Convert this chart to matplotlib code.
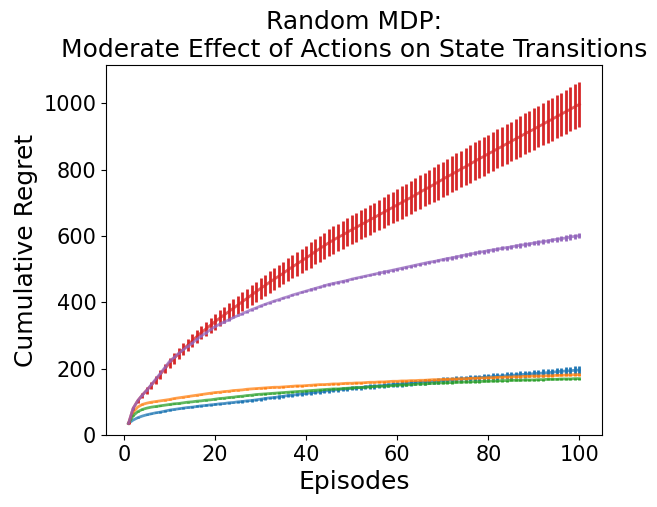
import numpy as np
import matplotlib
matplotlib.use("Agg")
import matplotlib.pyplot as plt

episodes = np.arange(1, 101)

# mean cumulative regret per episode
blue = [35, 45, 52, 57, 61, 64, 67, 69, 72, 75, 77, 79, 81, 83, 84, 86, 88, 89, 91, 92,
        94, 95, 97, 98, 100, 101, 103, 104, 106, 108, 110, 112, 113, 115, 117, 119, 120, 122, 124, 125,
        127, 129, 130, 132, 134, 135, 137, 138, 139, 141, 142, 143, 145, 146, 147, 148, 149, 151, 152, 153,
        154, 155, 157, 158, 159, 160, 161, 162, 163, 165, 166, 167, 168, 169, 170, 171, 172, 173, 174, 175,
        176, 177, 178, 179, 180, 181, 182, 183, 184, 185, 186, 187, 188, 189, 191, 192, 193, 194, 195, 196]
orange = [35, 68, 84, 92, 96, 99, 101, 103, 105, 107, 110, 112, 114, 116, 118, 120, 122, 124, 126, 128,
          129, 131, 132, 134, 135, 136, 138, 139, 140, 141, 142, 143, 144, 144, 145, 146, 147, 148, 148, 149,
          150, 151, 152, 152, 153, 154, 154, 155, 156, 156, 157, 157, 158, 159, 159, 160, 160, 161, 162, 162,
          163, 163, 164, 164, 165, 165, 166, 167, 167, 168, 168, 169, 169, 170, 170, 171, 171, 172, 172, 173,
          173, 174, 174, 175, 175, 176, 176, 177, 177, 178, 178, 178, 179, 179, 180, 180, 181, 181, 182, 182]
green = [35, 58, 70, 77, 81, 84, 86, 88, 90, 92, 94, 95, 97, 99, 100, 102, 103, 105, 106, 108,
         110, 111, 113, 114, 116, 117, 119, 120, 122, 123, 124, 125, 126, 127, 128, 129, 130, 131, 132, 133,
         134, 135, 136, 137, 138, 139, 139, 140, 141, 142, 143, 143, 144, 145, 146, 147, 147, 148, 149, 150,
         151, 151, 152, 153, 154, 154, 155, 156, 157, 157, 158, 158, 159, 159, 160, 160, 161, 161, 162, 162,
         163, 163, 164, 164, 165, 165, 165, 166, 166, 166, 167, 167, 168, 168, 168, 169, 169, 169, 170, 170]
red = [35, 80, 103, 120, 135, 150, 166, 183, 200, 217, 231, 245, 258, 271, 284, 297, 309, 320, 331, 342,
       352, 362, 372, 382, 392, 402, 412, 422, 432, 442, 451, 461, 470, 479, 488, 498, 507, 516, 525, 534,
       543, 553, 562, 571, 580, 588, 596, 603, 611, 619, 626, 634, 641, 649, 656, 664, 671, 679, 686, 694,
       701, 709, 716, 724, 732, 740, 747, 755, 763, 771, 779, 786, 794, 802, 809, 817, 825, 833, 840, 848,
       855, 863, 870, 878, 885, 893, 900, 908, 915, 922, 930, 937, 945, 952, 960, 967, 975, 982, 990, 997]
purple = [35, 80, 103, 120, 135, 152, 169, 186, 204, 222, 234, 246, 257, 267, 277, 289, 299, 308, 318, 327,
          334, 341, 347, 354, 360, 366, 372, 378, 383, 389, 394, 399, 404, 408, 413, 417, 422, 426, 430, 434,
          438, 442, 446, 450, 454, 457, 460, 463, 466, 470, 473, 476, 479, 482, 485, 488, 491, 494, 497, 500,
          503, 506, 509, 512, 515, 518, 521, 523, 526, 529, 532, 534, 537, 540, 543, 545, 548, 551, 553, 556,
          558, 560, 563, 565, 567, 570, 572, 574, 576, 579, 581, 583, 585, 588, 590, 592, 594, 597, 599, 601]

# error bar half-widths
blue_err = [0, 1, 1, 1, 1, 1, 1, 2, 2, 2, 2, 2, 2, 2, 2, 3, 3, 3, 3, 3,
            3, 3, 3, 3, 4, 4, 4, 4, 4, 4, 4, 4, 4, 5, 5, 5, 5, 5, 5, 5,
            5, 5, 5, 6, 6, 6, 6, 6, 6, 6, 6, 6, 7, 7, 7, 7, 7, 7, 7, 7,
            8, 8, 8, 8, 8, 8, 8, 8, 8, 9, 9, 9, 9, 9, 9, 9, 9, 9, 9, 10,
            10, 10, 10, 10, 10, 10, 10, 10, 10, 11, 11, 11, 11, 11, 11, 11, 11, 11, 12, 12]
orange_err = [0, 1, 1, 1, 1, 1, 1, 1, 1, 1, 1, 1, 1, 1, 1, 1, 1, 1, 1, 1,
              1, 1, 1, 1, 1, 1, 1, 1, 1, 2, 2, 2, 2, 2, 2, 2, 2, 2, 2, 2,
              2, 2, 2, 2, 2, 2, 2, 2, 2, 2, 2, 2, 2, 2, 2, 2, 2, 2, 2, 2,
              2, 2, 2, 2, 2, 3, 3, 3, 3, 3, 3, 3, 3, 3, 3, 3, 3, 3, 3, 3,
              3, 3, 3, 3, 3, 3, 3, 3, 3, 3, 3, 3, 3, 3, 3, 3, 3, 3, 3, 3]
green_err = [0, 1, 1, 1, 1, 1, 1, 1, 1, 1, 1, 1, 1, 1, 1, 1, 1, 1, 1, 1,
             1, 1, 1, 1, 1, 1, 1, 1, 1, 1, 2, 2, 2, 2, 2, 2, 2, 2, 2, 2,
             2, 2, 2, 2, 2, 2, 2, 2, 2, 2, 2, 2, 2, 2, 2, 2, 2, 2, 2, 2,
             2, 2, 2, 2, 2, 2, 2, 2, 2, 2, 3, 3, 3, 3, 3, 3, 3, 3, 3, 3,
             3, 3, 3, 3, 3, 3, 3, 3, 3, 3, 3, 3, 3, 3, 3, 3, 3, 3, 3, 3]
red_err = [3, 5, 7, 8, 10, 11, 12, 13, 14, 15, 16, 17, 18, 19, 20, 20, 21, 22, 23, 24,
           24, 25, 26, 27, 27, 28, 29, 29, 30, 31, 31, 32, 33, 33, 34, 35, 35, 36, 36, 37,
           38, 38, 39, 39, 40, 41, 41, 42, 42, 43, 43, 44, 44, 45, 45, 46, 46, 47, 47, 48,
           49, 49, 50, 50, 51, 51, 52, 52, 53, 53, 54, 54, 55, 55, 56, 56, 57, 57, 58, 58,
           58, 59, 59, 60, 60, 61, 61, 62, 62, 63, 63, 64, 64, 65, 65, 65, 66, 66, 67, 67]
purple_err = [0, 1, 1, 1, 1, 1, 1, 1, 1, 1, 2, 2, 2, 2, 2, 2, 2, 2, 2, 2,
              2, 2, 2, 2, 2, 3, 3, 3, 3, 3, 3, 3, 3, 3, 3, 3, 3, 3, 3, 3,
              4, 4, 4, 4, 4, 4, 4, 4, 4, 4, 4, 4, 4, 4, 4, 5, 5, 5, 5, 5,
              5, 5, 5, 5, 5, 5, 5, 5, 5, 5, 6, 6, 6, 6, 6, 6, 6, 6, 6, 6,
              6, 6, 6, 6, 6, 7, 7, 7, 7, 7, 7, 7, 7, 7, 7, 8, 8, 8, 8, 8]

series = [
    (blue, blue_err, "tab:blue"),
    (orange, orange_err, "tab:orange"),
    (green, green_err, "tab:green"),
    (red, red_err, "tab:red"),
    (purple, purple_err, "tab:purple"),
]

fig = plt.figure(figsize=(6.57, 5.07), dpi=100)
ax = fig.add_axes([0.1613, 0.142, 0.755, 0.7298])

for mean, err, col in series:
    ax.errorbar(episodes, mean, yerr=err, fmt="none", ecolor=col, elinewidth=2)
    ax.plot(episodes, mean, color=col, linewidth=2, alpha=0.75)

ax.set_ylim(bottom=0)
ax.set_title("Random MDP:\nModerate Effect of Actions on State Transitions", fontsize=18)
ax.set_xlabel("Episodes", fontsize=18)
ax.set_ylabel("Cumulative Regret", fontsize=18)
ax.tick_params(labelsize=15)

fig.savefig("out.png", dpi=100)
